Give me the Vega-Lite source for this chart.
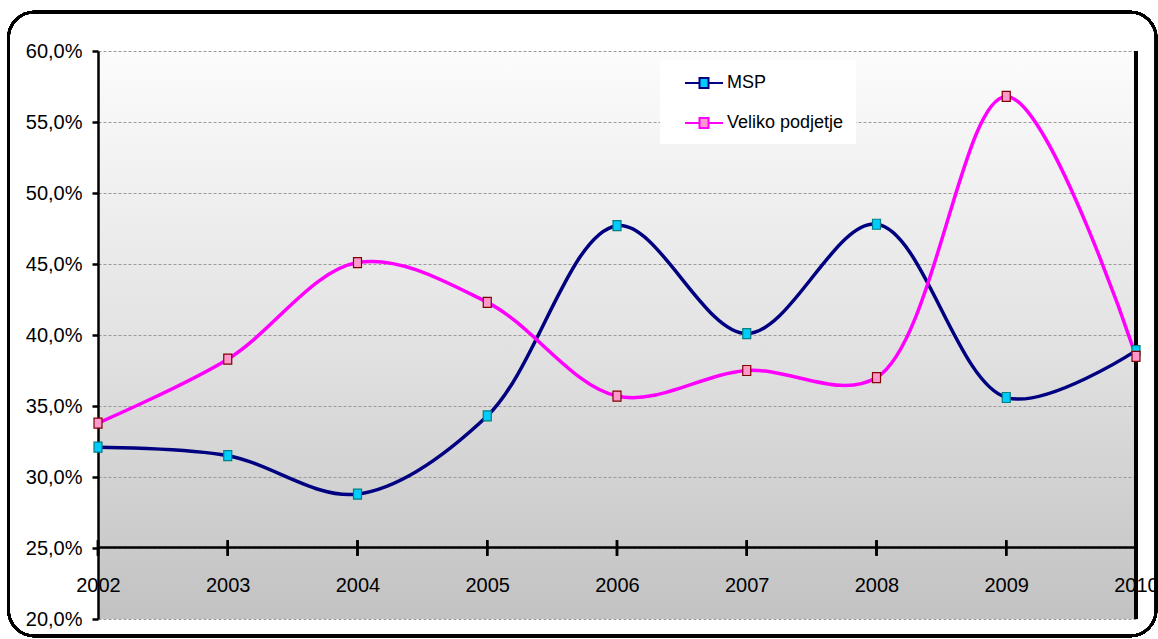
{
  "$schema": "https://vega.github.io/schema/vega-lite/v6.json",
  "autosize": {"type": "none"},
  "width": 1038,
  "height": 568,
  "padding": {"left": 98, "top": 51, "right": 22, "bottom": 20},
  "background": "white",
  "data": {
    "values": [
      {"year": 2002, "series": "MSP", "value": 0.321},
      {"year": 2003, "series": "MSP", "value": 0.315},
      {"year": 2004, "series": "MSP", "value": 0.288},
      {"year": 2005, "series": "MSP", "value": 0.343},
      {"year": 2006, "series": "MSP", "value": 0.477},
      {"year": 2007, "series": "MSP", "value": 0.401},
      {"year": 2008, "series": "MSP", "value": 0.478},
      {"year": 2009, "series": "MSP", "value": 0.356},
      {"year": 2010, "series": "MSP", "value": 0.389},
      {"year": 2002, "series": "Veliko podjetje", "value": 0.338},
      {"year": 2003, "series": "Veliko podjetje", "value": 0.383},
      {"year": 2004, "series": "Veliko podjetje", "value": 0.451},
      {"year": 2005, "series": "Veliko podjetje", "value": 0.423},
      {"year": 2006, "series": "Veliko podjetje", "value": 0.357},
      {"year": 2007, "series": "Veliko podjetje", "value": 0.375},
      {"year": 2008, "series": "Veliko podjetje", "value": 0.370},
      {"year": 2009, "series": "Veliko podjetje", "value": 0.568},
      {"year": 2010, "series": "Veliko podjetje", "value": 0.385}
    ]
  },
  "encoding": {
    "x": {
      "field": "year", "type": "quantitative",
      "scale": {"domain": [2002, 2010], "nice": false, "zero": false},
      "axis": {
        "title": null, "orient": "bottom", "offset": -72,
        "values": [2002, 2003, 2004, 2005, 2006, 2007, 2008, 2009, 2010],
        "format": "d", "grid": false, "ticks": false,
        "labelPadding": 28, "labelFlush": false, "labelOverlap": false,
        "domainColor": "#000000", "domainWidth": 2.5
      }
    },
    "y": {
      "field": "value", "type": "quantitative",
      "scale": {"domain": [0.2, 0.6], "nice": false, "zero": false},
      "axis": {
        "title": null, "format": ".1%",
        "values": [0.2, 0.25, 0.3, 0.35, 0.4, 0.45, 0.5, 0.55, 0.6],
        "grid": true, "gridColor": "#9a9a9a", "gridDash": [3, 2], "gridWidth": 1,
        "tickSize": 6, "tickColor": "#000000", "tickWidth": 2.5,
        "labelPadding": 10, "labelFlush": false, "labelOverlap": false,
        "domainColor": "#000000", "domainWidth": 2.5
      }
    }
  },
  "layer": [
    {
      "mark": {"type": "rect", "fill": null, "stroke": "#000000", "strokeWidth": 2.5, "cornerRadius": 26, "clip": false},
      "encoding": {
        "x": {"datum": 2001.31},
        "x2": {"datum": 2010.155},
        "y": {"datum": 0.6275},
        "y2": {"datum": 0.188}
      }
    },
    {
      "mark": {"type": "rule", "color": "#000000", "strokeWidth": 2.5},
      "encoding": {
        "y": {"datum": 0.2},
        "y2": {"datum": 0.6},
        "x": {"datum": 2010}
      }
    },
    {
      "mark": {"type": "rule", "color": "#000000", "strokeWidth": 2.5},
      "encoding": {
        "y": {"datum": 0.2445},
        "y2": {"datum": 0.2555}
      }
    },
    {
      "mark": {"type": "line", "interpolate": "catmull-rom", "strokeWidth": 3.5},
      "encoding": {
        "color": {
          "field": "series", "type": "nominal",
          "scale": {"domain": ["MSP", "Veliko podjetje"], "range": ["#000080", "#ff00ff"]},
          "legend": {
            "title": null, "orient": "none", "legendX": 562, "legendY": 9,
            "symbolType": "M0.2,0H1.65M2.55,0H4M1.65,-0.5H2.55V0.5H1.65Z",
            "symbolSize": 400, "symbolStrokeWidth": 2,
            "fillColor": "white", "padding": 12, "rowPadding": 20,
            "labelFontSize": 18, "labelOffset": 33, "labelColor": "#000000",
            "encode": {
              "symbols": {
                "update": {
                  "fill": {"scale": "fill", "field": "value"},
                  "fillOpacity": {"value": 1}
                }
              }
            }
          }
        }
      }
    },
    {
      "mark": {"type": "point", "shape": "M-0.8,-1H0.8V1H-0.8Z", "filled": true, "size": 100, "opacity": 1, "strokeWidth": 1.2},
      "encoding": {
        "fill": {
          "field": "series", "type": "nominal",
          "scale": {"domain": ["MSP", "Veliko podjetje"], "range": ["#00ccff", "#ff99cc"]},
          "legend": null
        },
        "stroke": {
          "field": "series", "type": "nominal",
          "scale": {"domain": ["MSP", "Veliko podjetje"], "range": ["#008080", "#800000"]},
          "legend": null
        }
      }
    }
  ],
  "config": {
    "locale": {
      "number": {"decimal": ",", "thousands": ".", "grouping": [3], "currency": ["", " €"]}
    },
    "font": "Liberation Sans, Arial, sans-serif",
    "view": {
      "stroke": null,
      "fill": {
        "gradient": "linear", "x1": 0, "y1": 0, "x2": 0, "y2": 1,
        "stops": [
          {"offset": 0, "color": "#fcfcfc"},
          {"offset": 0.5, "color": "#e3e3e3"},
          {"offset": 1, "color": "#c2c2c2"}
        ]
      }
    },
    "axis": {
      "labelFont": "Liberation Sans, Arial, sans-serif",
      "labelFontSize": 20, "labelColor": "#000000"
    },
    "legend": {
      "labelFont": "Liberation Sans, Arial, sans-serif"
    }
  }
}
